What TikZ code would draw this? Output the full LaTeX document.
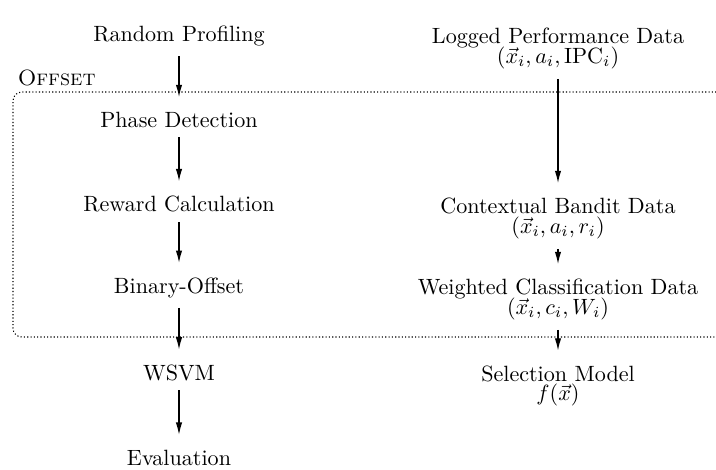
\documentclass[tikz,border=0pt]{standalone}
\usetikzlibrary{arrows.meta,fit}

\tikzset{
  stage/.style={inner sep=0pt, anchor=base},
  datanode/.style={inner sep=0pt, anchor=north, align=center},
  flow/.style={semithick, -{Latex[length=5.6pt,width=2.9pt]},
               shorten <=4.3pt, shorten >=6.5pt},
  offsetbox/.style={draw, densely dotted, line width=0.5pt,
                    rounded corners=4pt, inner sep=0pt},
  boxlabel/.style={anchor=south west, inner sep=2.2pt}
}

\begin{document}
\begin{tikzpicture}[x=0.4525pt, y=-0.4525pt]
  \useasboundingbox (0,0) rectangle (716,470);

  % group frame (runs past the right border)
  \coordinate (bxa) at (13,92);
  \coordinate (bxb) at (745,337);
  \node[offsetbox, fit=(bxa)(bxb)] (offset) {};
  \node[boxlabel] (offlbl) at (offset.north west) {\textsc{Offset}};

  % left column: profiling pipeline
  \node[stage] (rp) at (179,42)    {Random Profiling};
  \node[stage] (pd) at (179,127.3) {Phase Detection};
  \node[stage] (rc) at (179,211.7) {Reward Calculation};
  \node[stage] (bo) at (179,293.3) {Binary-Offset};
  \node[stage] (ws) at (179,380)   {WSVM};
  \node[stage] (ev) at (179,465)   {Evaluation};

  % right column: data transformations
  \node[datanode] (lp) at (558,27.5)
    {Logged Performance Data\\[-3pt] $(\vec{x}_i, a_i, \mathrm{IPC}_i)$};
  \node[datanode] (cb) at (558,197.5)
    {Contextual Bandit Data\\[-3pt] $(\vec{x}_i, a_i, r_i)$};
  \node[datanode] (wc) at (558,278.5)
    {Weighted Classification Data\\[-3pt] $(\vec{x}_i, c_i, W_i)$};
  \node[datanode] (sm) at (558,365)
    {Selection Model\\[-3pt] $f(\vec{x})$};

  % connectors
  \draw[flow] (rp.south) -- (pd.north);
  \draw[flow] (pd.south) -- (rc.north);
  \draw[flow] (rc.south) -- (bo.north);
  \draw[flow] (bo.south) -- (ws.north);
  \draw[flow] (ws.south) -- (ev.north);

  \draw[flow] (lp.south) -- (cb.north);
  \draw[flow] (cb.south) -- (wc.north);
  \draw[flow] (wc.south) -- (sm.north);
\end{tikzpicture}
\end{document}
